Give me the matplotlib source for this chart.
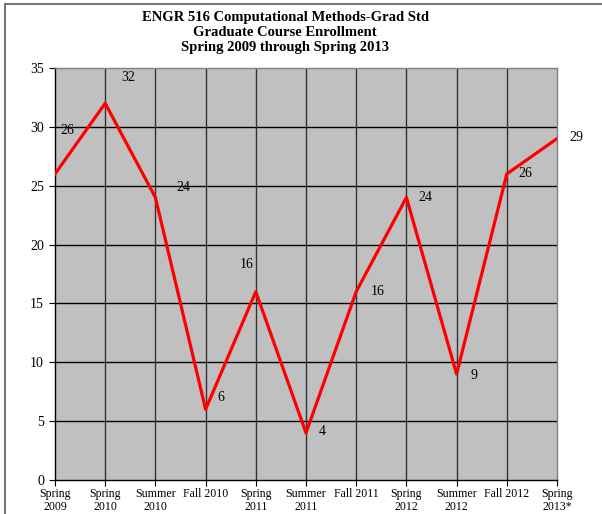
import matplotlib.pyplot as plt
import matplotlib.patches as patches

terms = ["Spring\n2009", "Spring\n2010", "Summer\n2010", "Fall 2010", "Spring\n2011",
         "Summer\n2011", "Fall 2011", "Spring\n2012", "Summer\n2012", "Fall 2012",
         "Spring\n2013*"]
enrollment = [26, 32, 24, 6, 16, 4, 16, 24, 9, 26, 29]

# label offsets in pixels (dx, dy), as placed in the original
label_offsets = [(12, 43), (23, 26), (28, 10), (15, 12), (-9, 27),
                 (16, 1), (21, 0), (19, 0), (17, -1), (19, 0), (19, 1)]

plt.rcParams['font.family'] = ['Liberation Serif', 'DejaVu Serif']

fig = plt.figure(figsize=(6.02, 5.14), dpi=100)
ax = fig.add_axes([55 / 602, 1 - 480 / 514, 502 / 602, 412 / 514])

# outer frame
fig.patches.append(patches.Rectangle((5 / 602, -0.1), 1.2, (1 - 4 / 514) + 0.1,
                                     transform=fig.transFigure, fill=False,
                                     edgecolor='#777777', linewidth=1.5))

x = list(range(len(terms)))
ax.set_facecolor('#c0c0c0')
ax.plot(x, enrollment, color='#ff0000', linewidth=2.3, zorder=3)

for xi, yi, (dx, dy) in zip(x, enrollment, label_offsets):
    ax.annotate(str(yi), (xi, yi), xytext=(dx * 0.72, dy * 0.72),
                textcoords='offset points', ha='center', va='center',
                fontsize=10, annotation_clip=False)

ax.set_xlim(0, len(terms) - 1)
ax.set_ylim(0, 35)
ax.set_yticks(range(0, 36, 5))
ax.set_xticks(x)
ax.set_xticklabels(terms, fontsize=8.6, linespacing=1.05)
ax.tick_params(axis='y', labelsize=10, direction='out', length=4, pad=4)
ax.tick_params(axis='x', direction='out', length=4, pad=2)

for yv in range(5, 35, 5):
    ax.axhline(yv, color='black', linewidth=1, zorder=1)
for xv in x[1:-1]:
    ax.axvline(xv, color='#333333', linewidth=1, zorder=1)

ax.spines['left'].set_color('black')
ax.spines['bottom'].set_color('black')
ax.spines['top'].set_color('#808080')
ax.spines['right'].set_color('#808080')
for s in ax.spines.values():
    s.set_linewidth(1)

fig.text(285 / 602, 1 - 33 / 514, "ENGR 516 Computational Methods-Grad Std\nGraduate Course Enrollment\nSpring 2009 through Spring 2013",
         ha='center', va='center', fontsize=10.5, fontweight='bold', linespacing=1.2)

fig.savefig("out.png", dpi=100)
